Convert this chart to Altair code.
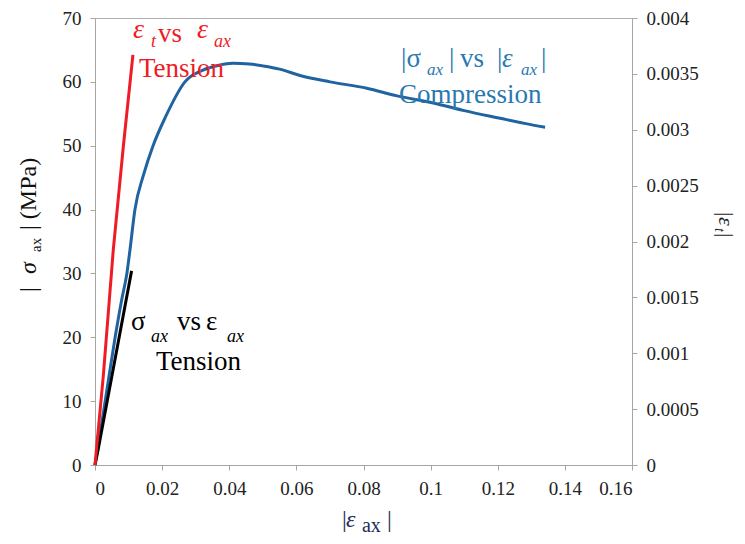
import altair as alt
import pandas as pd
import jinja2

SERIF = "Liberation Serif"
RED = "#ee1c25"
BLUE_LINE = "#1f63a0"
BLUE_TEXT = "#2a78b0"
BLACK = "#000000"

# |sigma_ax| vs |eps_ax|, compression (left axis, MPa)
comp_eps = [0.0, 0.002, 0.004, 0.006, 0.008, 0.0095, 0.0104, 0.0119, 0.0145, 0.0173,
            0.021, 0.0268, 0.032, 0.037, 0.041, 0.046, 0.05, 0.055, 0.0611, 0.07,
            0.081, 0.09, 0.1008, 0.11, 0.1207, 0.128, 0.1341]
comp_sig = [0.0, 6.5, 13.3, 20.0, 26.0, 30.0, 33.6, 40.0, 45.5, 50.0,
            54.5, 60.0, 61.8, 62.6, 62.9, 62.8, 62.5, 62.0, 61.0, 60.0,
            59.0, 57.8, 56.7, 55.5, 54.3, 53.5, 52.9]

# sigma_ax vs eps_ax, tension (left axis, MPa)
ten_eps = [0.0, 0.0009, 0.0109]
ten_sig = [0.0, 2.3, 30.4]

# eps_t vs eps_ax, tension (right axis)
tr_eps = [0.0, 0.00248, 0.00546, 0.00844, 0.0113]
tr_et = [0.0, 0.00080, 0.00193, 0.00285, 0.00367]

x_ticks = [0, 0.02, 0.04, 0.06, 0.08, 0.1, 0.12, 0.14, 0.16]
yl_ticks = [0, 10, 20, 30, 40, 50, 60, 70]
yr_ticks = [0, 0.0005, 0.001, 0.0015, 0.002, 0.0025, 0.003, 0.0035, 0.004]

# annotation pieces (positions in data units of x / left y)
ann_t = ["ε", "t", "vs", "ε", "ax", "Tension",
         "|σ", "ax", "|", "vs", "|", "ε", "ax", "|", "Compression",
         "σ", "ax", "vs", "ε", "ax", "Tension",
         "|", "σ", "ax", "| (MPa)",
         "|", "ε", "t", "|",
         "|", "ε", "ax", "|"]
ann_x = [0.01132, 0.01669, 0.01877, 0.03039, 0.03546, 0.01311,
         0.09117, 0.09892, 0.10547, 0.10875, 0.11978, 0.12126, 0.12693, 0.13289, 0.09058,
         0.01073, 0.01669, 0.02443, 0.03307, 0.03933, 0.01818,
         -0.01758, -0.01758, -0.01609, -0.01758,
         0.18592, 0.18592, 0.18473, 0.18592,
         0.07359, 0.07479, 0.07955, 0.08700]
ann_y = [66.87, 65.46, 66.24, 66.87, 65.46, 60.76,
         62.33, 61.07, 62.33, 62.33, 62.33, 62.33, 61.07, 62.33, 56.69,
         21.14, 19.26, 21.14, 21.14, 19.26, 14.88,
         27.09, 29.91, 33.36, 36.80,
         39.62, 38.84, 37.11, 36.33,
         -9.71, -9.71, -10.49, -9.71]
ann_s = [28, 18, 27, 28, 18, 27,
         27, 17, 27, 27, 27, 27, 17, 27, 27,
         27, 18, 27, 27, 18, 27,
         24, 24, 15, 24,
         22, 22, 14, 22,
         24, 24, 20, 24]
ann_c = [RED] * 6 + [BLUE_TEXT] * 9 + [BLACK] * 6 + ["#111111"] * 4 + ["#222222"] * 4 + ["#1e2d55"] * 4
ann_i = [1, 1, 0, 1, 1, 0,
         0, 1, 0, 0, 0, 1, 1, 0, 0,
         0, 1, 0, 0, 1, 0,
         0, 1, 0, 0,
         0, 1, 1, 0,
         0, 1, 0, 0]
ann_a = [0] * 21 + [270] * 4 + [90] * 4 + [0] * 4

comp_df = pd.DataFrame({"x": comp_eps, "y": comp_sig})
ten_df = pd.DataFrame({"x": ten_eps, "y": ten_sig})
tr_df = pd.DataFrame({"x": tr_eps, "e": tr_et})
ann_df = pd.DataFrame({"x": ann_x, "y": ann_y, "t": ann_t, "s": ann_s,
                       "c": ann_c, "i": ann_i, "a": ann_a})

AX = dict(labelFont=SERIF, labelFontSize=19, labelColor="#222222", labelPadding=9,
          domainColor="#a6a6a6", tickColor="#a6a6a6", tickSize=5, grid=False, title=None)
x_axis = alt.Axis(values=x_ticks, format=".2~f", **AX)
yl_axis = alt.Axis(values=yl_ticks, **AX)
yr_axis = alt.Axis(values=yr_ticks, format="~g", orient="right", **AX)

X = alt.X("x:Q", scale=alt.Scale(domain=[0, 0.16], nice=False, zero=False), axis=x_axis)
YL = alt.Y("y:Q", scale=alt.Scale(domain=[0, 70], nice=False, zero=False), axis=yl_axis)

blue = alt.Chart(comp_df).mark_line(color=BLUE_LINE, strokeWidth=3, interpolate="monotone").encode(x=X, y=YL)
black = alt.Chart(ten_df).mark_line(color=BLACK, strokeWidth=3).encode(x=X, y=YL)


def text_layer(italic):
    df = ann_df[ann_df["i"] == italic]
    return alt.Chart(df).mark_text(
        align="left", baseline="alphabetic", font=SERIF,
        fontStyle="italic" if italic else "normal"
    ).encode(
        x=X, y=YL, text="t:N",
        size=alt.Size("s:Q", scale=None),
        color=alt.Color("c:N", scale=None),
        angle=alt.Angle("a:Q", scale=None),
    )


left = alt.layer(blue, black, text_layer(0), text_layer(1))

red = alt.Chart(tr_df).mark_line(color=RED, strokeWidth=3).encode(
    x=X,
    y=alt.Y("e:Q", scale=alt.Scale(domain=[0, 0.004], nice=False, zero=False), axis=yr_axis),
)

chart = alt.layer(left, red).resolve_scale(y="independent").properties(
    width=537, height=447,
    padding={"left": 95, "top": 18, "right": 113, "bottom": 79},
    autosize=alt.AutoSizeParams(type="none"),
    background="white",
).configure_view(stroke="#b0b0b0", strokeWidth=1)

PAGE = jinja2.Template("""<!DOCTYPE html>
<html>
<head>
  <style>
    #{{ output_div }}.vega-embed { width: 100%; display: flex; }
    #{{ output_div }}.vega-embed details,
    #{{ output_div }}.vega-embed details summary { position: relative; }
    #{{ output_div }} svg text { font-family: 'Liberation Serif', 'Times New Roman', serif !important; }
  </style>
  <script type="text/javascript" src="{{ base_url }}/vega@{{ vega_version }}"></script>
  <script type="text/javascript" src="{{ base_url }}/vega-lite@{{ vegalite_version }}"></script>
  <script type="text/javascript" src="{{ base_url }}/vega-embed@{{ vegaembed_version }}"></script>
</head>
<body>
  <div id="{{ output_div }}"></div>
  <script type="text/javascript">
    (function(vegaEmbed) {
      var spec = {{ spec }};
      var embedOpt = {{ embed_options }};
      function showError(el, error) {
        el.innerHTML = ('<div style="color:red;"><p>JavaScript Error: ' + error.message + '</p></div>');
        throw error;
      }
      const el = document.getElementById('{{ output_div }}');
      vegaEmbed("#{{ output_div }}", spec, embedOpt).catch(error => showError(el, error));
    })(vegaEmbed);
  </script>
</body>
</html>
""")

chart.save("out.html", embed_options={"renderer": "svg", "actions": False}, template=PAGE)
